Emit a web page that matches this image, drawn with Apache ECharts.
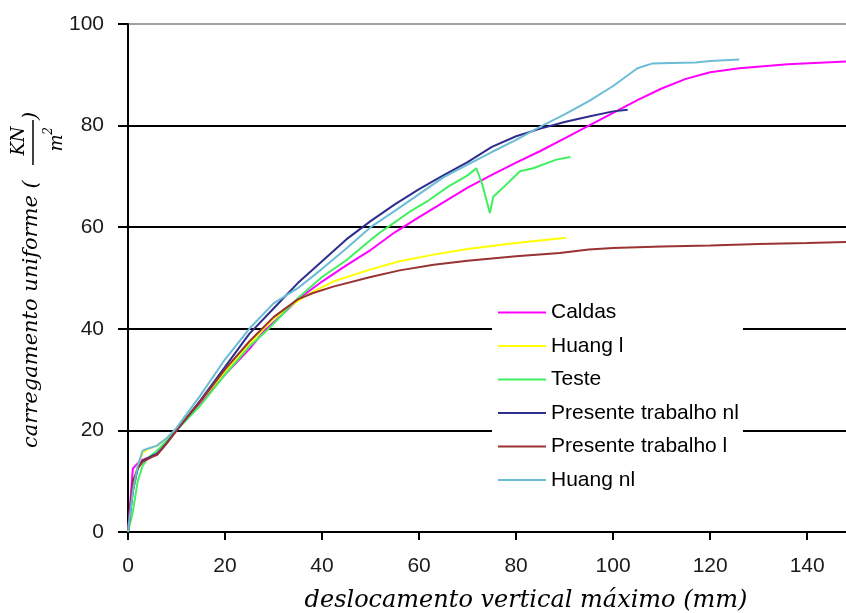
<!DOCTYPE html>
<html>
<head>
<meta charset="utf-8">
<style>
  html, body { margin: 0; padding: 0; background: #ffffff; }
  #chart { width: 846px; height: 613px; }
</style>
<script src="https://cdn.jsdelivr.net/npm/echarts@6/dist/echarts.min.js"></script>
</head>
<body>
<div id="chart"></div>
<script>
// Load–deflection curves: uniform load (kN/m²) vs maximum vertical displacement (mm)
const xTicks = [0, 20, 40, 60, 80, 100, 120, 140];
const yTicks = [0, 20, 40, 60, 80, 100];

const seriesNames = ['Caldas', 'Huang l', 'Teste', 'Presente trabalho nl', 'Presente trabalho l', 'Huang nl'];
const seriesColors = ['#ff00ff', '#ffff00', '#40f060', '#2e2e8f', '#993333', '#6cbcd6'];

const caldas = [
  [0, 0], [1, 12.5], [2, 13.5], [3, 14.2], [5, 15], [7, 16.5], [10, 20], [15, 25.5], [20, 31],
  [25, 36], [28, 39.5], [32, 43], [36, 46.5], [40, 49.3], [45, 52.5], [50, 55.5], [55, 59],
  [60, 62], [65, 64.9], [70, 67.8], [75, 70.3], [80, 72.7], [85, 75], [90, 77.5], [95, 80],
  [100, 82.5], [105, 85], [110, 87.3], [115, 89.2], [120, 90.5], [126, 91.3], [136, 92.1],
  [148, 92.6]
];

const huangL = [
  [0, 0], [1, 8], [2, 13], [3, 15.5], [4, 16.3], [6, 17], [8, 18.5], [10, 20.3], [15, 25.8],
  [20, 31.5], [25, 37], [30, 42], [35, 45.5], [38, 47.2], [42.3, 49.3], [50, 51.7], [56, 53.3],
  [63, 54.6], [70, 55.7], [80, 56.9], [90.3, 57.9]
];

const teste = [
  [0, 0], [1, 4], [2, 10], [3, 13], [4, 14.5], [6, 16], [8, 18], [10, 20], [15, 25], [20, 31],
  [25, 36.5], [29, 40], [35, 46], [40, 50.2], [45, 53.5], [50, 57.5], [52, 59], [54, 60.3],
  [58, 63], [62, 65.3], [66, 68], [70, 70.2], [71.8, 71.6], [73, 68.5], [74.6, 62.8],
  [75.3, 66], [77, 67.5], [80.8, 71], [83.5, 71.6], [88.3, 73.3], [91.2, 73.8]
];

const presenteNl = [
  [0, 0], [1, 8], [2, 12.5], [3, 14], [5, 15], [6, 15.3], [8, 17.5], [10, 20], [15, 26],
  [20, 32.5], [25, 39], [30, 44], [35, 49], [40, 53.3], [45, 57.6], [50, 61.2], [55, 64.5],
  [60, 67.5], [65, 70.2], [70, 72.8], [75, 75.8], [80, 77.9], [85, 79.4], [90, 80.7], [95, 81.8],
  [100, 82.8], [103, 83.1]
];

const presenteL = [
  [0, 0], [1, 10], [2, 12.5], [3, 13.8], [5, 14.8], [6, 15.2], [8, 17.5], [10, 20], [15, 25.8],
  [20, 32], [25, 37.5], [30, 42.3], [35, 45.8], [38, 47], [42.3, 48.3], [50, 50.2], [56, 51.5],
  [63, 52.6], [70, 53.4], [80, 54.3], [89, 54.9], [95, 55.6], [100, 55.9], [110, 56.2],
  [120, 56.4], [130, 56.7], [140, 56.9], [148, 57.1]
];

const huangNl = [
  [0, 0], [1, 8], [2, 13], [3, 16], [4, 16.4], [6, 17], [8, 18.5], [10, 20.5], [15, 27],
  [20, 34], [25, 40], [30, 45], [35, 48], [40, 51.8], [45, 55.8], [50, 60], [55, 63.2],
  [60, 66.5], [65, 69.8], [70, 72.3], [75, 74.8], [80, 77.2], [85, 79.8], [90, 82.2],
  [95, 84.8], [100, 87.8], [105, 91.3], [108, 92.2], [112, 92.3], [117, 92.4], [120, 92.7],
  [126, 93]
];

const seriesData = [caldas, huangL, teste, presenteNl, presenteL, huangNl];

const sansFont = '"Liberation Sans", Arial, sans-serif';

const chart = echarts.init(document.getElementById('chart'), null, { renderer: 'canvas' });

chart.setOption({
  backgroundColor: '#ffffff',
  animation: false,
  grid: { left: 128, right: 0, top: 24, bottom: 81, containLabel: false },
  xAxis: {
    type: 'value',
    min: 0,
    max: 148,
    interval: 20,
    axisLine: { show: true, onZero: false, lineStyle: { color: '#000', width: 2 } },
    axisTick: { show: true, inside: false, length: 8, lineStyle: { color: '#000', width: 2 }, customValues: xTicks },
    axisLabel: { margin: 24, color: '#1a1a1a', fontFamily: sansFont, fontSize: 21, customValues: xTicks },
    splitLine: { show: false }
  },
  yAxis: {
    type: 'value',
    min: 0,
    max: 100,
    interval: 20,
    axisLine: { show: true, onZero: false, lineStyle: { color: '#000', width: 2 } },
    axisTick: { show: true, inside: false, length: 10, lineStyle: { color: '#000', width: 2 } },
    axisLabel: { margin: 24, color: '#1a1a1a', fontFamily: sansFont, fontSize: 21 },
    splitLine: {
      show: true,
      lineStyle: { color: ['#000', '#000', '#000', '#000', '#000', '#a0a0a0'], width: 2 }
    }
  },
  legend: {
    show: true,
    orient: 'vertical',
    left: 492,
    top: 291,
    padding: [10, 4, 10, 6],
    backgroundColor: '#ffffff',
    icon: 'rect',
    itemWidth: 48,
    itemHeight: 2,
    itemGap: 10.5,
    textStyle: { color: '#000', fontFamily: sansFont, fontSize: 21, lineHeight: 23 },
    data: seriesNames
  },
  series: seriesNames.map((name, i) => ({
    name: name,
    type: 'line',
    data: seriesData[i],
    symbol: 'none',
    smooth: false,
    lineStyle: { color: seriesColors[i], width: 2 },
    itemStyle: { color: seriesColors[i] },
    clip: true
  })),
  graphic: [
    {
      type: 'group',
      x: 38,
      y: 448,
      rotation: Math.PI / 2,
      children: [
        { type: 'text', x: 0, y: -6, style: { text: 'carregamento uniforme (', font: 'italic 21px "DejaVu Serif", serif', fill: '#000', align: 'left', verticalAlign: 'middle' } },
        { type: 'text', x: 307, y: -19, style: { text: 'KN', font: 'italic 18px "DejaVu Serif", serif', fill: '#000', align: 'center', verticalAlign: 'middle' } },
        { type: 'line', shape: { x1: 283, y1: -5, x2: 328, y2: -5 }, style: { stroke: '#000', lineWidth: 1.5 } },
        { type: 'text', x: 305, y: 19, style: { text: 'm', font: 'italic 18px "DejaVu Serif", serif', fill: '#000', align: 'center', verticalAlign: 'middle' } },
        { type: 'text', x: 317, y: 11, style: { text: '2', font: 'italic 12px "DejaVu Serif", serif', fill: '#000', align: 'center', verticalAlign: 'middle' } },
        { type: 'text', x: 332, y: -6, style: { text: ')', font: 'italic 21px "DejaVu Serif", serif', fill: '#000', align: 'center', verticalAlign: 'middle' } }
      ]
    },
    {
      type: 'text',
      x: 526,
      y: 601,
      style: { text: 'deslocamento vertical máximo (mm)', font: 'italic 24px "DejaVu Serif", serif', fill: '#000', align: 'center', verticalAlign: 'middle' }
    }
  ]
});
</script>
</body>
</html>
